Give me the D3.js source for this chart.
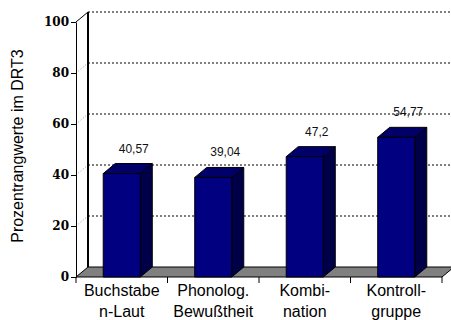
<!DOCTYPE html>
<html><head><meta charset="utf-8">
<script src="https://cdn.jsdelivr.net/npm/d3@7"></script>
<style>body{margin:0;background:#fff}svg{display:block}</style>
</head><body>
<svg id="c" width="451" height="320"></svg>
<script>
const categories = ["Buchstabe\nn-Laut", "Phonolog.\nBewußtheit", "Kombi-\nnation", "Kontroll-\ngruppe"];
const values = [40.57, 39.04, 47.2, 54.77];
const valueLabels = ["40,57", "39,04", "47,2", "54,77"];
const yTicks = [0, 20, 40, 60, 80, 100];
const yTitle = "Prozentrangwerte im DRT3";

const svg = d3.select("#c");
const W = 451, H = 320;
const left = 76, right = 442, dx = 12, dy = -10;
const y = d3.scaleLinear().domain([0, 100]).range([277, 22]);
const xc = d3.scaleBand().domain(categories).range([left, right]).padding(0);
const xb = d3.scaleBand().domain(categories).range([left, right]).paddingInner(0.595).paddingOuter(0.2975);

svg.append("rect").attr("width", W).attr("height", H).attr("fill", "#fff");

// back wall grid lines
const g = svg.append("g");
yTicks.filter(t => t > 0).forEach(t => {
  g.append("line").attr("x1", left + dx).attr("x2", W).attr("y1", y(t) + dy).attr("y2", y(t) + dy)
    .attr("stroke", "#000").attr("stroke-width", 1).attr("stroke-dasharray", "2,2");
  if (t < 100) {
    g.append("line").attr("x1", left).attr("x2", left + dx).attr("y1", y(t)).attr("y2", y(t) + dy)
      .attr("stroke", "#999").attr("stroke-width", 1).attr("stroke-dasharray", "1,2");
  }
});
// back wall left edge
g.append("line").attr("x1", left + dx).attr("x2", left + dx).attr("y1", y(100) + dy).attr("y2", y(0) + dy)
  .attr("stroke", "#000").attr("stroke-width", 2);
// side-wall top diagonal
g.append("line").attr("x1", left).attr("x2", left + dx).attr("y1", y(100)).attr("y2", y(100) + dy)
  .attr("stroke", "#000").attr("stroke-width", 1);

// floor
g.append("polygon")
  .attr("points", [[left, y(0)], [right, y(0)], [right + dx, y(0) + dy], [left + dx, y(0) + dy]].map(p => p.join(",")).join(" "))
  .attr("fill", "#808080").attr("stroke", "#000").attr("stroke-width", 1);

// bars
const bars = svg.append("g");
categories.forEach((c, i) => {
  const x = xb(c), w = xb.bandwidth(), yt = y(values[i]), yb = y(0);
  const bg = bars.append("g").attr("stroke", "#000").attr("stroke-width", 1).attr("stroke-linejoin", "round");
  bg.append("polygon").attr("points", [[x + w, yb], [x + w + dx, yb + dy], [x + w + dx, yt + dy], [x + w, yt]].map(p => p.join(",")).join(" "))
    .attr("fill", "#000048");
  bg.append("polygon").attr("points", [[x, yt], [x + dx, yt + dy], [x + w + dx, yt + dy], [x + w, yt]].map(p => p.join(",")).join(" "))
    .attr("fill", "#000068");
  bg.append("rect").attr("x", x).attr("y", yt).attr("width", w).attr("height", yb - yt).attr("fill", "#000080");
  svg.append("text").attr("x", x + w / 2 + dx).attr("y", yt + dy - 11)
    .attr("text-anchor", "middle").style("font-family", "'Liberation Sans', Arial, sans-serif")
    .style("font-size", "12px").attr("fill", "#111").text(valueLabels[i]);
});

// y axis
const ya = svg.append("g").attr("transform", `translate(${left},0)`)
  .attr("font-family", null).attr("font-size", null)
  .call(d3.axisLeft(y).tickValues(yTicks).tickSize(5).tickSizeOuter(0).tickPadding(2).tickFormat(d3.format("d")));
ya.attr("font-family", "'DejaVu Serif', serif").attr("font-size", 12).attr("font-weight", "bold");
ya.select(".domain").attr("stroke", "#000");
ya.selectAll(".tick line").attr("stroke", "#000");
ya.selectAll("text")
  .style("font-family", "'DejaVu Serif', serif")
  .style("font-weight", "bold")
  .style("font-size", "12px")
  .attr("fill", "#000");

// x axis ticks
const xa = svg.append("g");
const bounds = categories.map(c => xc(c)).concat([xc(categories[categories.length - 1]) + xc.bandwidth()]);
bounds.forEach(b => {
  xa.append("line").attr("x1", b).attr("x2", b).attr("y1", y(0)).attr("y2", y(0) + 6).attr("stroke", "#000");
});
categories.forEach(c => {
  const lines = c.split("\n");
  const t = xa.append("text").attr("text-anchor", "middle")
    .style("font-family", "'Liberation Sans', Arial, sans-serif").style("font-size", "16px").attr("fill", "#000");
  lines.forEach((l, k) => {
    t.append("tspan").attr("x", xc(c) + xc.bandwidth() / 2).attr("y", 296 + k * 21).text(l);
  });
});

// y title
svg.append("text").attr("transform", "translate(23,146) rotate(-90)")
  .attr("text-anchor", "middle").style("font-family", "'Liberation Sans', Arial, sans-serif")
  .style("font-size", "16px").attr("fill", "#000").text(yTitle);
</script>
</body></html>
